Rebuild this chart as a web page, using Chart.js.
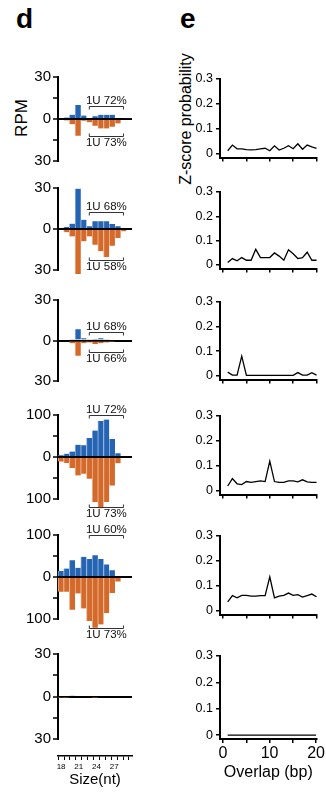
<!DOCTYPE html>
<html>
<head>
<meta charset="utf-8">
<script src="https://cdn.jsdelivr.net/npm/chart.js@4.4.1/dist/chart.umd.min.js"></script>
<style>
body{margin:0;background:#fff;width:326px;height:792px;position:relative;overflow:hidden;font-family:"Liberation Sans",Arial,sans-serif;}
canvas{position:absolute;}
.lab{position:absolute;color:#000;white-space:nowrap;line-height:1;}
.rot{transform:translate(-50%,-50%) rotate(-90deg);}
</style>
</head>
<body>
<div class="lab" style="left:16px;top:5px;font-weight:bold;font-size:28px">d</div>
<div class="lab" style="left:180px;top:5px;font-weight:bold;font-size:28px">e</div>
<div class="lab rot" style="left:21px;top:118px;font-size:17px">RPM</div>
<div class="lab rot" style="left:186px;top:119px;font-size:16px">Z-score probability</div>
<script>
// read sizes (nt) and RPM per strand, panels top to bottom
const sizes = ['18','19','20','21','22','23','24','25','26','27','28','29','30'];
const sizeTickLabels = [18, 21, 24, 27];

const sense1 = [0, 1, 3, 10, 2.5, 0.8, 2, 3, 3, 3, 0.8, 0, 0.5];
const anti1  = [0, -1, -3.7, -12, -1.2, -2.4, -4.9, -6.8, -6.8, -5.6, -3.2, -0.7, 0];
const sense2 = [0, 1.5, 3.9, 29.5, 6.8, 2, 5.6, 5.6, 5.6, 3.7, 2, 0, 0];
const anti2  = [0, -2.4, -5.4, -33, -9, -5.4, -11.5, -16.3, -20.5, -12.2, -6.6, -1.7, 0];
const sense3 = [0, 0, 0.5, 8.4, 1.7, 0.5, 1.2, 1.7, 1, 0, 0, 0, 0];
const anti3  = [-0.7, 0, -2, -11.3, -2, -1.5, -2.5, -2, -1.5, -1.2, 0, 0, 0];
const sense4 = [4, 8, 13, 29, 28, 45, 63, 86, 89, 43, 9, 0, 0];
const anti4  = [-11, -14, -26, -44, -40, -52, -107, -122, -107, -68, -15, 0, 0];
const sense5 = [14, 20, 40, 22, 48, 43, 52, 43, 30, 16, 0, 0, 0];
const anti5  = [-35, -35, -78, -39, -75, -105, -121, -113, -86, -38, -11, 0, 0];
const sense6 = [0, 0, 0.8, 0, 0, 0, 0, 0, 0, 0, 0, 0, 0];
const anti6  = [-1, -1, 0, 0, 0, 0, -1, 0, 0, 0, 0, 0, 0];
const rpmMax = [30, 30, 30, 100, 100, 30];

const upperText = ['1U 72%', '1U 68%', '1U 68%', '1U 72%', '1U 60%', null];
const lowerText = ['1U 73%', '1U 58%', '1U 66%', '1U 73%', '1U 73%', null];
const bracketFrom = '23', bracketTo = '29';

// overlap (bp) vs z-score probability
const overlap = [1,2,3,4,5,6,7,8,9,10,11,12,13,14,15,16,17,18,19,20];
const z1 = [0.012, 0.035, 0.02, 0.02, 0.017, 0.016, 0.017, 0.02, 0.022, 0.012, 0.032, 0.015, 0.022, 0.032, 0.02, 0.04, 0.018, 0.035, 0.028, 0.022];
const z2 = [0.01, 0.026, 0.017, 0.03, 0.019, 0.019, 0.064, 0.03, 0.03, 0.03, 0.049, 0.036, 0.019, 0.062, 0.046, 0.026, 0.03, 0.052, 0.019, 0.019];
const z3 = [0.015, 0.003, 0.003, 0.08, 0.002, 0.002, 0.002, 0.002, 0.002, 0.002, 0.002, 0.002, 0.002, 0.002, 0.002, 0.013, 0.003, 0.003, 0.013, 0.003];
const z4 = [0.019, 0.049, 0.028, 0.025, 0.037, 0.034, 0.037, 0.04, 0.037, 0.119, 0.037, 0.034, 0.034, 0.04, 0.04, 0.036, 0.044, 0.036, 0.034, 0.034];
const z5 = [0.036, 0.061, 0.052, 0.062, 0.062, 0.059, 0.059, 0.061, 0.061, 0.136, 0.052, 0.059, 0.062, 0.071, 0.062, 0.065, 0.055, 0.061, 0.067, 0.056];
const z6 = [0, 0, 0, 0, 0, 0, 0, 0, 0, 0, 0, 0, 0, 0, 0, 0, 0, 0, 0, 0];
const zTicks = [0, 0.1, 0.2, 0.3];
const overlapTicks = [0, 5, 10, 15, 20];
const overlapTickLabels = [0, 10, 20];

const senseAll = [sense1, sense2, sense3, sense4, sense5, sense6];
const antiAll = [anti1, anti2, anti3, anti4, anti5, anti6];
const zAll = [z1, z2, z3, z4, z5, z6];

// layout (page pixels): [top of axis, bottom of axis]
const leftBox = [[77,161],[188,270],[300,381],[415,499],[535,619],[654,739]];
const rightBox = [[79,162],[192,273],[302,384],[416,499],[536,619],[656,739]];
const upperAt = [9.5, 12.4, 6.6, 100, 101];
const lowerAt = [-12.4, -22.6, -8.8, -119, -121];

const FONT = '"Liberation Sans", Arial, sans-serif';
Chart.defaults.font.family = FONT;
Chart.defaults.color = '#000';
Chart.defaults.animation = false;

const blue = '#2464b2', blueEdge = '#8fb0dc';
const orange = '#d3692b', orangeEdge = '#eeb48f';

function makeCanvas(left, top, w, h) {
  const c = document.createElement('canvas');
  c.width = w; c.height = h;
  c.style.left = left + 'px'; c.style.top = top + 'px';
  c.style.width = w + 'px'; c.style.height = h + 'px';
  document.body.appendChild(c);
  return c;
}

const bracketPlugin = {
  id: 'bracket',
  afterDraw(chart, args, o) {
    if (!o.up) return;
    const ctx = chart.ctx, xs = chart.scales.x, ys = chart.scales.y;
    const x1 = xs.getPixelForValue(sizes.indexOf(bracketFrom));
    const x2 = xs.getPixelForValue(sizes.indexOf(bracketTo));
    const cx = (x1 + x2) / 2;
    ctx.save();
    ctx.strokeStyle = '#333'; ctx.lineWidth = 1;
    ctx.fillStyle = '#111'; ctx.font = '11.5px ' + FONT;
    ctx.textAlign = 'center';
    let y = Math.round(ys.getPixelForValue(o.upAt)) + 0.5;
    ctx.beginPath(); ctx.moveTo(x1, y + 3); ctx.lineTo(x1, y); ctx.lineTo(x2, y); ctx.lineTo(x2, y + 3); ctx.stroke();
    ctx.textBaseline = 'alphabetic'; ctx.fillText(o.up, cx, y - 2.5);
    y = Math.round(ys.getPixelForValue(o.lowAt)) + 0.5;
    ctx.beginPath(); ctx.moveTo(x1, y - 3); ctx.lineTo(x1, y); ctx.lineTo(x2, y); ctx.lineTo(x2, y - 3); ctx.stroke();
    ctx.textBaseline = 'top'; ctx.fillText(o.low, cx, y + 1);
    ctx.restore();
  }
};

for (let i = 0; i < 6; i++) {
  const [top, bottom] = leftBox[i];
  const last = i === 5;
  const padTop = 22, padBottom = last ? 0 : 30;
  const cTop = top - padTop;
  const h = last ? 792 - cTop : bottom - top + padTop + padBottom;
  const max = rpmMax[i];
  const scales = {
    x: {type: 'category', display: false},
    y: {
      min: -max, max: max,
      afterBuildTicks: s => { s.ticks = [-max, -max / 2, 0, max / 2, max].map(v => ({value: v})); },
      afterFit: s => { s.width = 58; },
      ticks: {font: {size: 15}, padding: 2, callback: v => (v % max === 0 ? String(Math.abs(v)) : '')},
      grid: {color: c => (c.tick && c.tick.value === 0 ? '#000' : 'rgba(0,0,0,0)'), lineWidth: 2, tickColor: '#000', tickLength: 5, tickWidth: 1.5},
      border: {color: '#000', width: 2},
      z: 1
    }
  };
  if (last) {
    scales.gap = {type: 'linear', axis: 'x', position: 'bottom', weight: 1,
      ticks: {display: false}, grid: {display: false}, border: {display: false},
      afterFit: s => { s.height = 17; }};
    scales.ruler = {type: 'linear', axis: 'x', position: 'bottom', weight: 2, min: 18, max: 29.5,
      afterBuildTicks: s => { s.ticks = sizes.slice(0, 12).map(v => ({value: +v})); },
      ticks: {font: {size: 8}, padding: 2, maxRotation: 0, autoSkip: false,
        callback: v => (sizeTickLabels.includes(v) ? String(v) : '')},
      grid: {drawOnChartArea: false, color: '#000', tickLength: 4, lineWidth: 1},
      border: {color: '#000', width: 1.5},
      title: {display: true, text: 'Size(nt)', font: {size: 15}, padding: {top: 0, bottom: 3}},
      afterFit: s => { s.height = 36; }};
  }
  new Chart(makeCanvas(0, cTop, 140, h), {
    type: 'bar',
    data: {
      labels: sizes,
      datasets: [
        {data: senseAll[i], backgroundColor: blue, borderColor: blueEdge, borderWidth: {left: 1, right: 0, top: 0, bottom: 0},
          grouped: false, barPercentage: 1, categoryPercentage: 1, clip: false},
        {data: antiAll[i], backgroundColor: orange, borderColor: orangeEdge, borderWidth: {left: 1, right: 0, top: 0, bottom: 0},
          grouped: false, barPercentage: 1, categoryPercentage: 1, clip: false}
      ]
    },
    options: {
      responsive: false,
      layout: {padding: {top: padTop, bottom: padBottom, left: 0, right: 8}},
      plugins: {
        legend: {display: false},
        tooltip: {enabled: false},
        bracket: {up: upperText[i], low: lowerText[i], upAt: upperAt[i], lowAt: lowerAt[i]}
      },
      scales: scales
    },
    plugins: [bracketPlugin]
  });
}

for (let i = 0; i < 6; i++) {
  const [top, axisY] = rightBox[i];
  const last = i === 5;
  const cTop = top - 15;
  const xh = last ? 792 - axisY : 6;
  const h = axisY - cTop + xh;
  new Chart(makeCanvas(150, cTop, 176, h), {
    type: 'line',
    data: {
      datasets: [{
        data: overlap.map((x, k) => ({x: x, y: zAll[i][k]})),
        borderColor: '#000', borderWidth: 1.3, pointRadius: 0, tension: 0, clip: false
      }]
    },
    options: {
      responsive: false,
      layout: {padding: {top: 15, bottom: 0, left: 0, right: 9}},
      plugins: {legend: {display: false}, tooltip: {enabled: false}},
      scales: {
        x: {type: 'linear', min: -0.65, max: 20.1,
          afterBuildTicks: s => { s.ticks = overlapTicks.map(v => ({value: v})); },
          afterFit: s => { s.height = xh; },
          ticks: {display: last, font: {size: 16}, padding: 1, maxRotation: 0, autoSkip: false,
            callback: v => (overlapTickLabels.includes(v) ? String(v) : '')},
          grid: {drawOnChartArea: false, color: '#000', tickLength: 4, lineWidth: 1.5},
          border: {color: '#000', width: 2},
          title: {display: last, text: 'Overlap (bp)', font: {size: 16}, padding: {top: 0, bottom: 10}}
        },
        y: {min: -0.015, max: 0.3,
          afterBuildTicks: s => { s.ticks = zTicks.map(v => ({value: v})); },
          afterFit: s => { s.width = 70; },
          ticks: {font: {size: 12.5}, padding: 3, callback: v => (v === 0 ? '0' : v.toFixed(1))},
          grid: {drawOnChartArea: false, color: '#000', tickLength: 4, lineWidth: 1.5},
          border: {color: '#000', width: 2}
        }
      }
    }
  });
}
</script>
</body>
</html>
